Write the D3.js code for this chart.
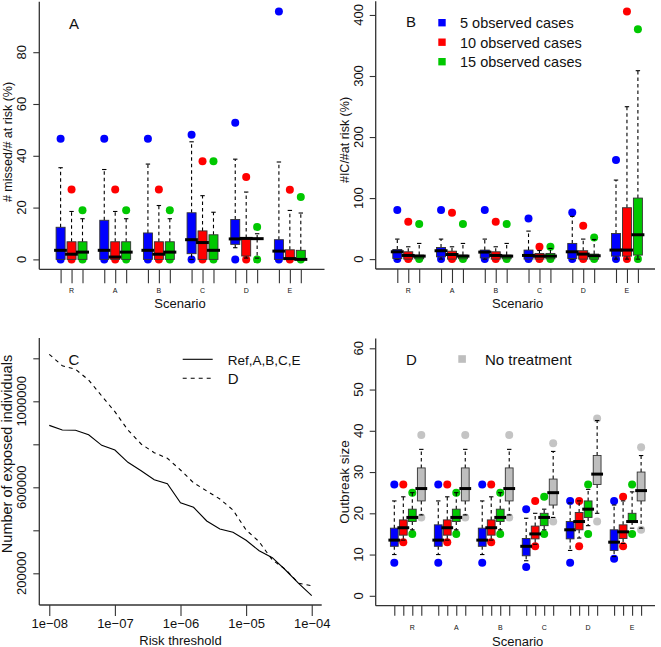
<!DOCTYPE html>
<html><head><meta charset="utf-8">
<script src="https://cdn.jsdelivr.net/npm/d3@7"></script>
<style>body{margin:0;background:#fff}svg{display:block}text{font-family:"Liberation Sans",Arial,sans-serif;fill:#111}</style>
</head><body><svg id="chart" width="661" height="647"></svg>
<script>
// ---------------- DATA ----------------
const scenarios = ["R","A","B","C","D","E"];
const legendAB = ["5 observed cases","10 observed cases","15 observed cases"];
const legendDlabel = ["No treatment"];
const legendC = ["Ref,A,B,C,E","D"];
const panelLetters = ["A","B","C","D"];
// each box: [minDot, whiskerLow, q1, median, q3, whiskerHigh, maxDot]
// Panel A: # missed / # at risk (%)
const missed5  = [[0,0,0,3.5,12.4,35.4,46.6],[0,0,0,3.5,15.1,34.7,46.6],[0,0,0,3.5,10.2,36.8,46.6],[0,0,2.2,7.6,18,45.4,48.1],[0,4.5,5.8,7.9,15.4,38.7,52.8],[0,0,0,3.2,7.6,37.6,95.7]];
const missed10 = [[0,0,0,2,6.8,18.5,27],[0,0,0,0.9,6.8,18.5,27],[0,0,0,2,6.8,20.8,27],[0,0,0,6.5,11,24.6,37.9],[0,0.5,1.3,8.1,8.3,26,31.8],[0,0,0,0.3,3.7,18.9,26.9]];
const missed15 = [[0,0,0,2.8,6.8,15.7,19],[0,0,0,2.8,6.8,15.7,19],[0,0,0,2.8,6.8,15.7,19],[0,0,0,3.5,9.5,18.2,37.9],[0,0.5,7.9,8,8.1,9.9,12.5],[0,0,0,0,3.5,17.9,24.1]];
// Panel B: #IC / #at risk (%)
const ic5  = [[0,0,1,12,15.8,32.8,80.3],[0,0,3.8,13.7,19.1,32.8,80.3],[0,0,2,11.5,14.8,32.8,80.3],[0,0,0,6,14.8,45.9,66.7],[0,0,1,12,25.7,70,76.5],[0,0,4.9,14.8,42,129.5,162.3]];
const ic10 = [[0,0,0,6,12,20.2,61.2],[0,0,0,7.6,13,20.2,76],[0,0,0,6,12,20.2,61.2],[0,0,0,4.9,9.3,14,20.2],[0,0,0,8.2,13.7,32.8,54.6],[0,0,4.9,14.8,84.2,249.7,405.5]];
const ic15 = [[0,0,0.5,4.9,6.6,25.7,57.4],[0,0,0.5,4.9,6.6,25.7,57.4],[0,0,0.5,4.9,6.6,25.7,57.4],[0,0,0.5,4.9,9.3,17.5,20.2],[0,0,0,5.5,8.2,32.2,35.5],[0,0,6.6,39.9,100,308.7,376.5]];
// Panel C: number of exposed individuals vs risk threshold
const thresholds = [1e-8,1.58e-8,2.51e-8,3.98e-8,6.31e-8,1e-7,1.58e-7,2.51e-7,3.98e-7,6.31e-7,1e-6,1.58e-6,2.51e-6,3.98e-6,6.31e-6,1e-5,1.58e-5,2.51e-5,3.98e-5,6.31e-5,1e-4];
const exposedRef = [888000,866500,865000,844600,795300,773500,716300,677200,635300,616700,528400,507000,443300,406000,390700,353500,305100,272600,215300,153500,95800];
const exposedD   = [1218600,1165600,1148800,1099000,1024600,951600,866500,801400,760900,734900,680500,621400,582800,545600,494400,401400,347000,261900,218600,153500,142300];
const xTickLabelsC = ["1e\u221208","1e\u221207","1e\u221206","1e\u221205","1e\u221204"];
const yTicksC = [200000,400000,600000,800000,1000000,1200000];
const yLabeledC = [200000,600000,1000000];
// Panel D: outbreak size
const out5  = [[8,10,12,13.5,16.4,23,27],[8,10,12,13.5,17.2,23,27],[8,10,12,13.5,16.4,23,27],[7,8.5,9.7,12,13.9,18.8,21],[8,11,13.8,16,18,22.5,23],[9,9.5,11,13,16,22,23]];
const out10 = [[13,13.5,14.7,16.5,18.4,24,27],[13,13.5,14.7,16.5,18.4,24,27],[13,13.5,14.7,16.5,18.4,24,27],[12,12.5,13.8,15,16.9,20,23],[12,14,16,18,20.2,23,23],[12,12.7,13.9,15.5,17.2,23,24]];
const out15 = [[15,16,18,19,21,25,25],[15,16,18,19,21,25,25],[15,16,18,19,21,25,25],[15,16,17,19,20,21,24],[15,17,19,21,23,25.8,27],[15,16.4,18,18,20,25.2,27]];
const outNone = [[19,19.6,23,26,31,35.5,39],[19,19.6,23,26,31,35.5,39],[19,19.6,23,26,31,35.5,39],[18,19,22,25,28.3,35,37],[18,20,27,29.5,34,42.5,43],[16,16.4,23,25.5,30,34,36]];

const colBlue="#0000ff", colRed="#ff0000", colGreen="#00c800", colGray="#bebebe", colGrayDot="#c4c4c4";
const axisCol="#333";

const svg = d3.select("#chart");

function frame(g, x0, x1, y0, y1){
  g.append("line").attr("x1",x0).attr("x2",x0).attr("y1",y0).attr("y2",y1).attr("stroke",axisCol).attr("stroke-width",1.3);
  g.append("line").attr("x1",x0).attr("x2",x1).attr("y1",y1).attr("y2",y1).attr("stroke",axisCol).attr("stroke-width",1.3);
}

function yAxis(g, y, x0, vals, fmt, labelX){
  const ax = d3.axisLeft(y).tickValues(vals).tickSize(6).tickFormat("");
  const a = g.append("g").attr("transform",`translate(${x0},0)`).call(ax);
  a.select(".domain").remove();
  a.selectAll("line").attr("stroke",axisCol).attr("stroke-width",1.1);
  vals.forEach(v=>{
    const t = fmt(v); if(!t) return;
    g.append("text").attr("transform",`translate(${labelX},${y(v)}) rotate(-90)`)
      .attr("text-anchor","middle").attr("font-size",13).text(t);
  });
}

function boxPanel(cfg){
  const g = svg.append("g");
  const n = cfg.series.length;
  const gx = d3.scalePoint().domain(scenarios).range(cfg.groupRange);
  const inner = d3.scalePoint().domain(d3.range(n)).range([0,(n-1)*cfg.step]);
  const y = cfg.y;
  const pos = [];
  scenarios.forEach((s,si)=>cfg.series.forEach((ser,k)=>pos.push(gx(s)+inner(k))));
  // x ticks
  const xa = d3.axisBottom(d3.scaleIdentity()).tickValues(pos).tickSize(cfg.xTick).tickFormat("");
  const xg = g.append("g").attr("transform",`translate(0,${cfg.frame[3]})`).call(xa);
  xg.select(".domain").remove();
  xg.selectAll("line").attr("stroke",axisCol).attr("stroke-width",1.1);
  scenarios.forEach(s=>{
    g.append("text").attr("x",gx(s)+inner(cfg.labelIdx)).attr("y",cfg.scenLabelY).attr("text-anchor","middle")
     .attr("font-size",7).text(s);
  });
  yAxis(g, y, cfg.frame[0], cfg.yTicks, v=>String(v), cfg.yLabelX);
  const bw = cfg.boxW, r = 4;
  // dots first
  cfg.series.forEach((ser,k)=>{
    ser.forEach((b,si)=>{
      const cx = gx(scenarios[si])+inner(k);
      [b[0],b[6]].forEach(v=>{
        g.append("circle").attr("cx",cx).attr("cy",y(v)).attr("r",r).attr("fill",cfg.dotColors[k]);
      });
    });
  });
  // boxes
  cfg.series.forEach((ser,k)=>{
    ser.forEach((b,si)=>{
      const cx = gx(scenarios[si])+inner(k);
      const [mn,lo,q1,md,q3,hi,mx] = b;
      const wl = (a,c)=>{ if(Math.abs(y(a)-y(c))<0.5) return;
        g.append("line").attr("x1",cx).attr("x2",cx).attr("y1",y(a)).attr("y2",y(c))
         .attr("stroke","#000").attr("stroke-width",1.1).attr("stroke-dasharray","3.5,3");
      };
      wl(q3,hi); wl(q1,lo);
      [hi, lo].forEach((v,j)=>{
        if (j===1 && Math.abs(y(lo)-y(q1))<0.5) return;
        g.append("line").attr("x1",cx-2.2).attr("x2",cx+2.2).attr("y1",y(v)).attr("y2",y(v))
         .attr("stroke","#000").attr("stroke-width",1.1);
      });
      g.append("rect").attr("x",cx-bw/2).attr("width",bw).attr("y",y(q3)).attr("height",Math.max(0.01,y(q1)-y(q3)))
       .attr("fill",cfg.colors[k]).attr("stroke","#333").attr("stroke-width",0.9);
      g.append("line").attr("x1",cx-bw/2-2).attr("x2",cx+bw/2+2).attr("y1",y(md)).attr("y2",y(md))
       .attr("stroke","#000").attr("stroke-width",3);
    });
  });
  frame(g, cfg.frame[0], cfg.frame[1], cfg.frame[2], cfg.frame[3]);
  // axis titles
  g.append("text").attr("x",cfg.xTitle[0]).attr("y",cfg.xTitle[1]).attr("text-anchor","middle").attr("font-size",13).text("Scenario");
  g.append("text").attr("transform",`translate(${cfg.yTitle[0]},${cfg.yTitle[1]}) rotate(-90)`).attr("text-anchor","middle")
   .attr("font-size",cfg.yTitleSize||12.5).text(cfg.yTitle[2]);
  return g;
}

// Panel A
const gA = boxPanel({
  series:[missed5,missed10,missed15], colors:[colBlue,colRed,colGreen], dotColors:[colBlue,colRed,colGreen],
  groupRange:[60.6,278.9], step:10.95, boxW:9, labelIdx:1,
  y:d3.scaleLinear().domain([-3.83,99.5]).range([269.3,1.7]),
  frame:[39.3,324.5,1.7,269.3], xTick:14, scenLabelY:292.5, yTicks:[0,20,40,60,80], yLabelX:26,
  xTitle:[180,307.5], yTitle:[11.5,142,"# missed/# at risk (%)"]
});
gA.append("text").attr("x",69).attr("y",28.5).attr("font-size",15).text(panelLetters[0]);

// Panel B
const gB = boxPanel({
  series:[ic5,ic10,ic15], colors:[colBlue,colRed,colGreen], dotColors:[colBlue,colRed,colGreen],
  groupRange:[397.3,616], step:10.95, boxW:9, labelIdx:1,
  y:d3.scaleLinear().domain([-16.2,422.4]).range([269,1.3]),
  frame:[375.7,655,1.3,269], xTick:14, scenLabelY:292.5, yTicks:[0,100,200,300,400], yLabelX:363,
  xTitle:[517.7,307.5], yTitle:[349,140,"#IC/#at risk (%)"]
});
gB.append("text").attr("x",406).attr("y",27).attr("font-size",15).text(panelLetters[1]);
const legColors=[colBlue,colRed,colGreen];
legendAB.forEach((t,i)=>{
  const cy = 22.7 + i*19.5;
  gB.append("rect").attr("x",438.3).attr("y",cy-3.7).attr("width",7.4).attr("height",7.4).attr("fill",legColors[i]);
  gB.append("text").attr("x",460).attr("y",cy+5.3).attr("font-size",14.5).text(t);
});

// Panel D
const gD = boxPanel({
  series:[out5,out10,out15,outNone], colors:[colBlue,colRed,colGreen,colGray], dotColors:[colBlue,colRed,colGreen,colGrayDot],
  groupRange:[394.3,614.1], step:9, boxW:7.8, labelIdx:2,
  y:d3.scaleLinear().domain([-2.4,62.4]).range([605.7,338.4]),
  frame:[375.7,655,338.4,605.7], xTick:10, scenLabelY:630, yTicks:[0,10,20,30,40,50,60], yLabelX:363,
  xTitle:[517.7,645.5], yTitle:[349,482,"Outbreak size"], yTitleSize:13.5
});
gD.append("text").attr("x",406).attr("y",364.5).attr("font-size",15).text(panelLetters[3]);
gD.append("rect").attr("x",458.3).attr("y",355.2).attr("width",7.6).attr("height",7.6).attr("fill",colGray);
gD.append("text").attr("x",485).attr("y",364.5).attr("font-size",15).text(legendDlabel[0]);

// Panel C
const gC = svg.append("g");
const xC = d3.scaleLog().domain([Math.pow(10,-8.152),Math.pow(10,-3.848)]).range([39.3,321.7]);
const yC = d3.scaleLinear().domain([52558,1294419]).range([605,338]);
const xaC = d3.axisBottom(xC).tickValues([1e-8,1e-7,1e-6,1e-5,1e-4]).tickSize(11).tickFormat((d,i)=>xTickLabelsC[i]);
const xgC = gC.append("g").attr("transform","translate(0,605)").call(xaC);
xgC.select(".domain").remove();
xgC.selectAll("line").attr("stroke",axisCol).attr("stroke-width",1.1);
xgC.selectAll("text").attr("font-size",13).attr("fill","#111").attr("dy",null).attr("y",23.3)
   .style("font-family","'Liberation Sans',Arial,sans-serif");
yAxis(gC, yC, 39.3, yTicksC, v=>yLabeledC.includes(v)?String(v):"", 26);
const lineGen = d3.line().x((d,i)=>xC(thresholds[i])).y(d=>yC(d));
gC.append("path").datum(exposedRef).attr("d",lineGen).attr("fill","none").attr("stroke","#000").attr("stroke-width",1.1);
gC.append("path").datum(exposedD).attr("d",lineGen).attr("fill","none").attr("stroke","#000").attr("stroke-width",1.1).attr("stroke-dasharray","4,4");
frame(gC,39.3,321.7,338,605);
gC.append("text").attr("x",180.5).attr("y",645).attr("text-anchor","middle").attr("font-size",13).text("Risk threshold");
gC.append("text").attr("transform","translate(11.5,454) rotate(-90)").attr("text-anchor","middle").attr("font-size",14.5).text("Number of exposed individuals");
gC.append("text").attr("x",68.5).attr("y",364.5).attr("font-size",15).text(panelLetters[2]);
[0,1].forEach(i=>{
  const ly = 359.3 + i*19;
  gC.append("line").attr("x1",182.7).attr("x2",212.7).attr("y1",ly).attr("y2",ly).attr("stroke","#000").attr("stroke-width",1.1)
    .attr("stroke-dasharray", i===1?"4,4":null);
  gC.append("text").attr("x",227.7).attr("y",ly+5.5).attr("font-size",i===0?13.5:15).text(legendC[i]);
});
</script></body></html>
